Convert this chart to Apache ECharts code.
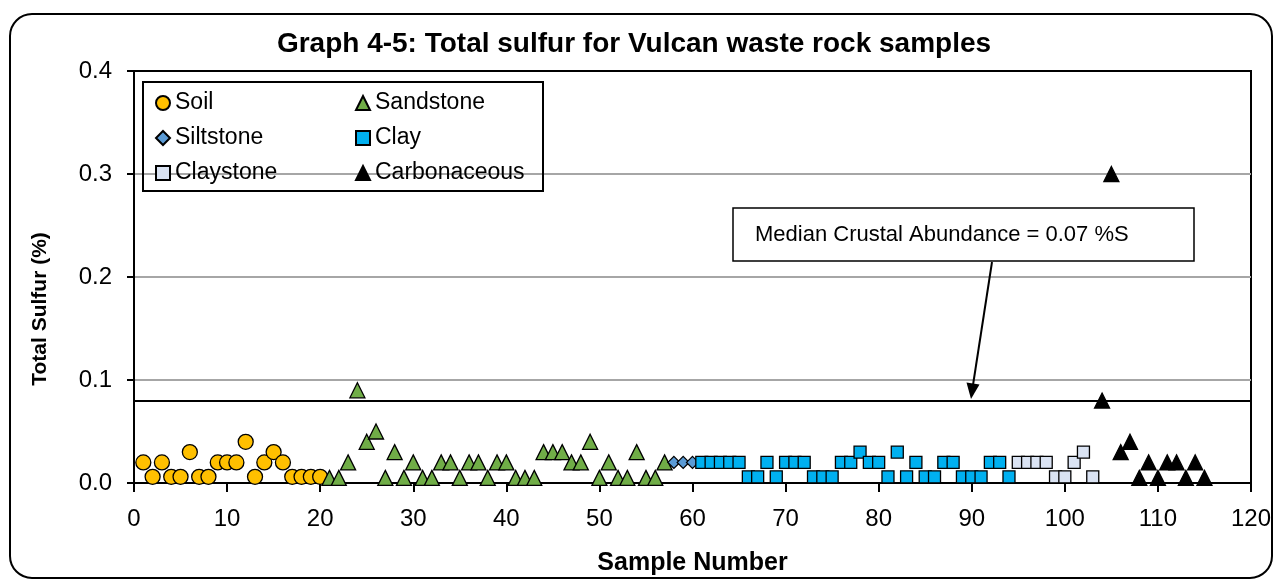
<!DOCTYPE html>
<html>
<head>
<meta charset="utf-8">
<title>Graph 4-5</title>
<script src="https://cdn.jsdelivr.net/npm/echarts@6/dist/echarts.min.js"></script>
<style>
    html, body { margin: 0; padding: 0; background: #fff; }
    #chart { width: 1280px; height: 585px; }
</style>
</head>
<body>
<div id="chart"></div>
<script>
// sample numbers and total sulfur (%) per rock type
var soilX = [1, 2, 3, 4, 5, 6, 7, 8, 9, 10, 11, 12, 13, 14, 15, 16, 17, 18, 19, 20]
var soilY = [0.02, 0.006, 0.02, 0.006, 0.006, 0.03, 0.006, 0.006, 0.02, 0.02,
    0.02, 0.04, 0.006, 0.02, 0.03, 0.02, 0.006, 0.006, 0.006, 0.006]

var sandX = [21, 22, 23, 24, 25, 26, 27, 28, 29, 30, 31, 32, 33, 34, 35, 36, 37, 38, 39,
    40, 41, 42, 43, 44, 45, 46, 47, 48, 49, 50, 51, 52, 53, 54, 55, 56, 57]
var sandY = [0.005, 0.005, 0.02, 0.09, 0.04, 0.05, 0.005, 0.03, 0.005, 0.02,
    0.005, 0.005, 0.02, 0.02, 0.005, 0.02, 0.02, 0.005, 0.02, 0.02,
    0.005, 0.005, 0.005, 0.03, 0.03, 0.03, 0.02, 0.02, 0.04, 0.005,
    0.02, 0.005, 0.005, 0.03, 0.005, 0.005, 0.02]

var siltX = [58, 59, 60]
var siltY = [0.02, 0.02, 0.02]

var clayX = [61, 62, 63, 64, 65, 66, 67, 68, 69, 70, 71, 72, 73, 74, 75, 76, 77,
    78, 79, 80, 81, 82, 83, 84, 85, 86, 87, 88, 89, 90, 91, 92, 93, 94]
var clayY = [0.02, 0.02, 0.02, 0.02, 0.02, 0.006, 0.006, 0.02, 0.006, 0.02,
    0.02, 0.02, 0.006, 0.006, 0.006, 0.02, 0.02, 0.03, 0.02, 0.02,
    0.006, 0.03, 0.006, 0.02, 0.006, 0.006, 0.02, 0.02, 0.006, 0.006,
    0.006, 0.02, 0.02, 0.006]

var claystoneX = [95, 96, 97, 98, 99, 100, 101, 102, 103]
var claystoneY = [0.02, 0.02, 0.02, 0.02, 0.006, 0.006, 0.02, 0.03, 0.006]

var carbX = [104, 105, 106, 107, 108, 109, 110, 111, 112, 113, 114, 115]
var carbY = [0.08, 0.3, 0.03, 0.04, 0.005, 0.02, 0.005, 0.02, 0.02, 0.005, 0.02, 0.005]

var crustalLine = 0.076
var xTicks = [0, 120, 10]
var yTicks = [0, 0.4, 0.1]

var FONT = '"Liberation Sans", Arial, sans-serif'

function pairs(xs, ys) {
    return xs.map(function (x, i) { return [x, ys[i]] })
}

function scatter(name, xs, ys, symbol, size, color) {
    return {
        name: name,
        type: 'scatter',
        data: pairs(xs, ys),
        symbol: symbol,
        symbolSize: size,
        itemStyle: { color: color, borderColor: '#000', borderWidth: 1.3, opacity: 1 },
        emphasis: { disabled: true }
    }
}

var chart = echarts.init(document.getElementById('chart'))

var series = [
    scatter('Soil', soilX, soilY, 'circle', 15, '#FFC000'),
    scatter('Sandstone', sandX, sandY, 'triangle', 15, '#70AD47'),
    scatter('Siltstone', siltX, siltY, 'diamond', 12, '#5B9BD5'),
    scatter('Clay', clayX, clayY, 'rect', 12, '#00B0F0'),
    scatter('Claystone', claystoneX, claystoneY, 'rect', 12, '#DAE3F3'),
    scatter('Carbonaceous', carbX, carbY, 'triangle', 15, '#000')
]
// median crustal abundance line
series[0].markLine = {
    silent: true,
    symbol: 'none',
    label: { show: false },
    lineStyle: { color: '#000', width: 2, type: 'solid' },
    data: [{ yAxis: crustalLine }]
}

var legendText = { fontFamily: FONT, fontSize: 23, color: '#000', lineHeight: 24 }

var option = {
    animation: false,
    textStyle: { fontFamily: FONT },
    title: {
        text: 'Graph 4-5: Total sulfur for Vulcan waste rock samples',
        left: 629,
        top: 25,
        textAlign: 'center',
        textStyle: { fontFamily: FONT, fontSize: 28, fontWeight: 'bold', color: '#000' }
    },
    grid: {
        left: 134, right: 29, top: 71, bottom: 102,
        show: true, borderColor: '#000', borderWidth: 2, backgroundColor: 'transparent'
    },
    legend: [
        {
            data: ['Soil', 'Siltstone', 'Claystone'],
            orient: 'vertical', left: 150, top: 86,
            itemWidth: 14, itemHeight: 14, itemGap: 11,
            textStyle: legendText
        },
        {
            data: ['Sandstone', 'Clay', 'Carbonaceous'],
            orient: 'vertical', left: 350, top: 86,
            itemWidth: 14, itemHeight: 14, itemGap: 11,
            textStyle: legendText
        }
    ],
    xAxis: [
        {
            type: 'value',
            min: xTicks[0], max: xTicks[1], interval: xTicks[2],
            name: 'Sample Number',
            nameLocation: 'middle',
            nameGap: 68,
            nameTextStyle: { fontFamily: FONT, fontSize: 25, fontWeight: 'bold', color: '#000' },
            axisLine: { lineStyle: { color: '#000', width: 2 } },
            axisTick: { show: true, inside: false, length: 9, lineStyle: { color: '#000', width: 2 } },
            axisLabel: { margin: 24, fontSize: 24, color: '#000', fontFamily: FONT },
            splitLine: { show: false }
        },
        {
            // top frame line
            type: 'value', position: 'top',
            min: xTicks[0], max: xTicks[1],
            axisLine: { show: true, lineStyle: { color: '#000', width: 2 } },
            axisTick: { show: false }, axisLabel: { show: false }, splitLine: { show: false }
        }
    ],
    yAxis: {
        type: 'value',
        min: yTicks[0], max: yTicks[1], interval: yTicks[2],
        axisLine: { show: true, lineStyle: { color: '#000', width: 2 } },
        axisTick: { show: true, inside: false, length: 7, lineStyle: { color: '#000', width: 2 } },
        axisLabel: {
            margin: 22, fontSize: 24, color: '#000', fontFamily: FONT,
            formatter: function (v) { return v.toFixed(1) }
        },
        splitLine: { show: true, lineStyle: { color: '#a6a6a6', width: 2 } }
    },
    series: series,
    graphic: [
        // outer rounded frame
        {
            type: 'rect', z: -10, silent: true,
            shape: { x: 10, y: 14, width: 1262, height: 564, r: 22 },
            style: { fill: 'none', stroke: '#000', lineWidth: 2 }
        },
        // y axis title
        {
            type: 'text', silent: true,
            x: 40, y: 309, rotation: Math.PI / 2,
            style: {
                text: 'Total Sulfur (%)',
                font: 'bold 21px "Liberation Sans", Arial, sans-serif',
                fill: '#000', align: 'center', verticalAlign: 'middle'
            }
        },
        // legend frame
        {
            type: 'rect', z: 1, silent: true,
            shape: { x: 143, y: 82, width: 400, height: 109 },
            style: { fill: 'none', stroke: '#000', lineWidth: 2 }
        },
        // annotation box
        {
            type: 'rect', z: 10, silent: true,
            shape: { x: 733, y: 208, width: 461, height: 53 },
            style: { fill: '#fff', stroke: '#000', lineWidth: 1.5 }
        },
        {
            type: 'text', z: 11, silent: true,
            left: 755, top: 224,
            style: {
                text: 'Median Crustal Abundance = 0.07 %S',
                font: '22px "Liberation Sans", Arial, sans-serif',
                fill: '#000'
            }
        },
        // arrow to median line
        {
            type: 'line', z: 11, silent: true,
            shape: { x1: 992, y1: 262, x2: 973, y2: 385 },
            style: { stroke: '#000', lineWidth: 2 }
        },
        {
            type: 'polygon', z: 11, silent: true,
            shape: { points: [[971, 399], [979.5, 384.5], [966.5, 382.5]] },
            style: { fill: '#000' }
        }
    ]
}

chart.setOption(option)
</script>
</body>
</html>
